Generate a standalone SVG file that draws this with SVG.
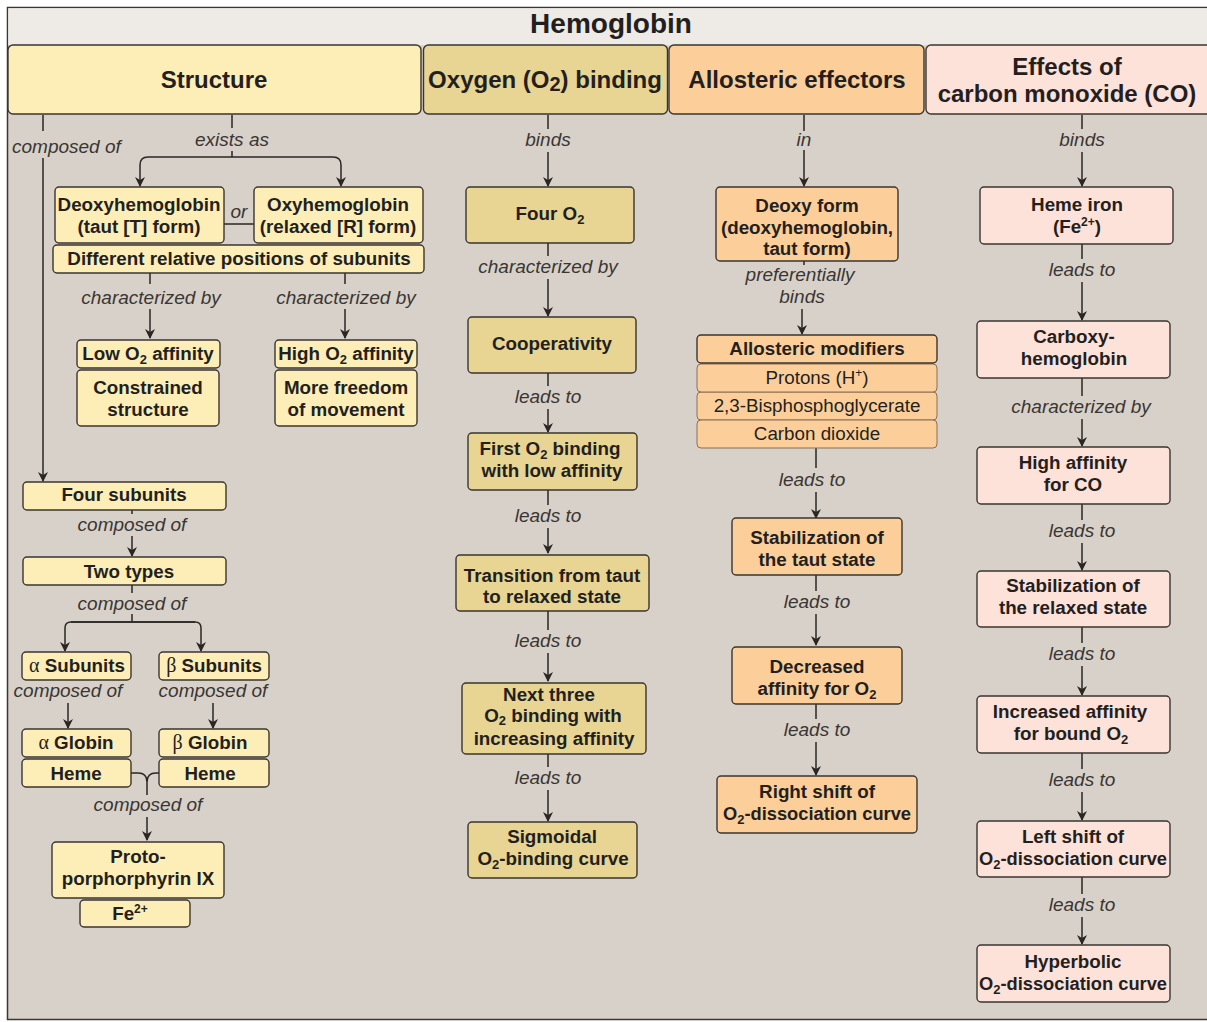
<svg xmlns="http://www.w3.org/2000/svg" width="1207" height="1022" viewBox="0 0 1207 1022">
<defs>
<marker id="ah" markerWidth="10" markerHeight="12" refX="9" refY="5" orient="auto" markerUnits="userSpaceOnUse">
<path d="M0,0 L10,5 L0,10 L3,5 Z" fill="#2a2623"/>
</marker>
<style>
.bg{fill:#d8d1c9;stroke:#3a3633;stroke-width:1.5}
.tb{fill:#eeebe7}
.n{stroke:#3a3530;stroke-width:1.4}
.s{fill:#fdeeb8}
.o{fill:#e8d493}
.a{fill:#fccf9a}
.c{fill:#fde2da}
.am{fill:#fccf9a;stroke:#8a6f55;stroke-width:1}
.t{font-family:"Liberation Sans",Arial,sans-serif;font-weight:bold;font-size:18.8px;fill:#231f20;text-anchor:middle}
.tn{font-size:18.3px}
.r{font-weight:normal}
.h{font-family:"Liberation Sans",Arial,sans-serif;font-weight:bold;font-size:24px;fill:#231f20;text-anchor:middle}
.ttl{font-size:28px}
.l{font-family:"Liberation Sans",Arial,sans-serif;font-style:italic;font-size:19px;fill:#3a3633;text-anchor:middle}
.gr{font-family:"Liberation Serif",serif;font-weight:normal}
.k{fill:none;stroke:#2a2623;stroke-width:1.5}
.ka{fill:none;stroke:#2a2623;stroke-width:1.5;marker-end:url(#ah)}
</style>
</defs>
<rect class="bg" x="7.5" y="7.5" width="1215" height="1012"/>
<rect class="tb" x="8.2" y="8.2" width="1210" height="37"/>
<text class="h ttl" x="611" y="33">Hemoglobin</text>

<g id="hdr-structure"><rect class="n s" x="8" y="45" width="413" height="69" rx="5"/><text class="h" x="214" y="88">Structure</text></g>
<g id="hdr-oxygen"><rect class="n o" x="423.5" y="45" width="244" height="69" rx="5"/><text class="h" x="545" y="88">Oxygen (O<tspan font-size="20" dy="3">2</tspan><tspan dy="-3">) binding</tspan></text></g>
<g id="hdr-allosteric"><rect class="n a" x="669" y="45" width="255" height="69" rx="5"/><text class="h" x="797" y="88">Allosteric effectors</text></g>
<g id="hdr-co"><rect class="n c" x="926" y="45" width="290" height="69" rx="5"/><text class="h" x="1067" y="75">Effects of</text><text class="h" x="1067" y="102">carbon monoxide (CO)</text></g>

<g id="connectors">
<path class="k" d="M43,115 V131 M43,158 V460"/>
<path class="ka" d="M43,460 V481"/>
<path class="k" d="M232,115 V128 M232,151 V157"/>
<path class="ka" d="M148,157 H333 Q341,157 341,165 V186"/>
<path class="ka" d="M148,157 Q140,157 140,165 V186"/>
<path class="k" d="M224,224 H254"/>
<path class="k" d="M150,273 V284 M345,273 V284"/>
<path class="ka" d="M150,309 V338"/>
<path class="ka" d="M345,309 V338"/>
<path class="k" d="M132,510 V514"/>
<path class="ka" d="M132,536 V556"/>
<path class="k" d="M132,585 V593 M132,614 V622"/>
<path class="ka" d="M71,622 H195 Q201,622 201,628 V651"/>
<path class="ka" d="M195,622 H71 Q65,622 65,628 V651"/>
<path class="ka" d="M68,703 V728"/>
<path class="ka" d="M213,703 V728"/>
<path class="k" d="M131,773 H138 Q147,773 147,782 V795 M159,773 H156 Q147,773 147,782"/>
<path class="ka" d="M147,817 V840"/>

<path class="k" d="M548,115 V129 M548,243 V256 M548,373 V386 M548,490 V505 M548,611 V630 M548,754 V767"/>
<path class="ka" d="M548,152 V186"/>
<path class="ka" d="M548,279 V316"/>
<path class="ka" d="M548,409 V432"/>
<path class="ka" d="M548,528 V553"/>
<path class="ka" d="M548,653 V681"/>
<path class="ka" d="M548,790 V821"/>

<path class="k" d="M804,115 V131 M804,261 V265 M816,448 V468 M816,575 V591 M816,704 V719"/>
<path class="ka" d="M804,150 V186"/>
<path class="ka" d="M802,309 V334"/>
<path class="ka" d="M816,492 V518"/>
<path class="ka" d="M816,614 V645"/>
<path class="ka" d="M816,742 V775"/>

<path class="k" d="M1082,115 V129 M1082,244 V259 M1082,378 V396 M1082,504 V520 M1082,627 V643 M1082,753 V769 M1082,877 V894"/>
<path class="ka" d="M1082,152 V186"/>
<path class="ka" d="M1082,282 V320"/>
<path class="ka" d="M1082,419 V446"/>
<path class="ka" d="M1082,543 V570"/>
<path class="ka" d="M1082,666 V695"/>
<path class="ka" d="M1082,792 V820"/>
<path class="ka" d="M1082,917 V944"/>
</g>

<g id="labels">
<text class="l" x="12" y="153" style="text-anchor:start">composed of</text>
<text class="l" x="232" y="146">exists as</text>
<text class="l" x="239" y="218">or</text>
<text class="l" x="151" y="304">characterized by</text>
<text class="l" x="346" y="304">characterized by</text>
<text class="l" x="132" y="531">composed of</text>
<text class="l" x="132" y="610">composed of</text>
<text class="l" x="68" y="697">composed of</text>
<text class="l" x="213" y="697">composed of</text>
<text class="l" x="148" y="811">composed of</text>
<text class="l" x="548" y="146">binds</text>
<text class="l" x="548" y="273">characterized by</text>
<text class="l" x="548" y="403">leads to</text>
<text class="l" x="548" y="522">leads to</text>
<text class="l" x="548" y="647">leads to</text>
<text class="l" x="548" y="784">leads to</text>
<text class="l" x="804" y="146">in</text>
<text class="l" x="800" y="281">preferentially</text>
<text class="l" x="802" y="303">binds</text>
<text class="l" x="812" y="486">leads to</text>
<text class="l" x="817" y="608">leads to</text>
<text class="l" x="817" y="736">leads to</text>
<text class="l" x="1082" y="146">binds</text>
<text class="l" x="1082" y="276">leads to</text>
<text class="l" x="1081" y="413">characterized by</text>
<text class="l" x="1082" y="537">leads to</text>
<text class="l" x="1082" y="660">leads to</text>
<text class="l" x="1082" y="786">leads to</text>
<text class="l" x="1082" y="911">leads to</text>
</g>

<g id="n-deoxy"><rect class="n s" x="55" y="187" width="169" height="56" rx="4"/><text class="t" x="139" y="211">Deoxyhemoglobin</text><text class="t" x="139" y="233">(taut [T] form)</text></g>
<g id="n-oxy"><rect class="n s" x="254" y="187" width="169" height="56" rx="4"/><text class="t" x="338" y="211">Oxyhemoglobin</text><text class="t" x="338" y="233">(relaxed [R] form)</text></g>
<g id="n-diff"><rect class="n s" x="53" y="245" width="371" height="28" rx="4"/><text class="t" x="239" y="265">Different relative positions of subunits</text></g>
<g id="n-low"><rect class="n s" x="77" y="340" width="143" height="28" rx="4"/><text class="t" x="148" y="360">Low O<tspan font-size="13" dy="4">2</tspan><tspan dy="-4"> affinity</tspan></text></g>
<g id="n-constrained"><rect class="n s" x="77" y="370" width="142" height="56" rx="4"/><text class="t" x="148" y="394">Constrained</text><text class="t" x="148" y="416">structure</text></g>
<g id="n-high"><rect class="n s" x="275" y="340" width="142" height="28" rx="4"/><text class="t" x="346" y="360">High O<tspan font-size="13" dy="4">2</tspan><tspan dy="-4"> affinity</tspan></text></g>
<g id="n-freedom"><rect class="n s" x="275" y="370" width="142" height="56" rx="4"/><text class="t" x="346" y="394">More freedom</text><text class="t" x="346" y="416">of movement</text></g>
<g id="n-four-subunits"><rect class="n s" x="23" y="482" width="203" height="28" rx="4"/><text class="t" x="124" y="501">Four subunits</text></g>
<g id="n-two-types"><rect class="n s" x="23" y="557" width="203" height="28" rx="4"/><text class="t" x="129" y="578">Two types</text></g>
<g id="n-alpha-sub"><rect class="n s" x="22" y="652" width="109" height="28" rx="4"/><text class="t" x="77" y="672"><tspan class="gr" font-size="20">α</tspan> Subunits</text></g>
<g id="n-beta-sub"><rect class="n s" x="159" y="652" width="110" height="28" rx="4"/><text class="t" x="214" y="672"><tspan class="gr" font-size="20">β</tspan> Subunits</text></g>
<g id="n-alpha-globin"><rect class="n s" x="22" y="729" width="109" height="28" rx="4"/><text class="t" x="76" y="749"><tspan class="gr" font-size="20">α</tspan> Globin</text></g>
<g id="n-alpha-heme"><rect class="n s" x="22" y="759" width="109" height="28" rx="4"/><text class="t" x="76" y="780">Heme</text></g>
<g id="n-beta-globin"><rect class="n s" x="159" y="729" width="110" height="28" rx="4"/><text class="t" x="210" y="749"><tspan class="gr" font-size="20">β</tspan> Globin</text></g>
<g id="n-beta-heme"><rect class="n s" x="159" y="759" width="110" height="28" rx="4"/><text class="t" x="210" y="780">Heme</text></g>
<g id="n-proto"><rect class="n s" x="52" y="842" width="172" height="56" rx="4"/><text class="t" x="138" y="863">Proto-</text><text class="t" x="138" y="885">porphorphyrin IX</text></g>
<g id="n-fe"><rect class="n s" x="80" y="900" width="110" height="27" rx="4"/><text class="t" x="130" y="920">Fe<tspan font-size="12" dy="-7">2+</tspan></text></g>

<g id="n-four-o2"><rect class="n o" x="466" y="187" width="168" height="56" rx="4"/><text class="t" x="550" y="220">Four O<tspan font-size="13" dy="4">2</tspan></text></g>
<g id="n-coop"><rect class="n o" x="468" y="317" width="168" height="56" rx="4"/><text class="t" x="552" y="350">Cooperativity</text></g>
<g id="n-first"><rect class="n o" x="468" y="433" width="169" height="57" rx="4"/><text class="t" x="550" y="455">First O<tspan font-size="13" dy="4">2</tspan><tspan dy="-4"> binding</tspan></text><text class="t" x="552" y="477">with low affinity</text></g>
<g id="n-transition"><rect class="n o" x="456" y="555" width="193" height="56" rx="4"/><text class="t" x="552" y="582">Transition from taut</text><text class="t" x="552" y="603">to relaxed state</text></g>
<g id="n-next"><rect class="n o" x="462" y="683" width="184" height="71" rx="4"/><text class="t" x="549" y="701">Next three</text><text class="t" x="553" y="722">O<tspan font-size="13" dy="3">2</tspan><tspan dy="-3"> binding with</tspan></text><text class="t" x="554" y="745">increasing affinity</text></g>
<g id="n-sigmoidal"><rect class="n o" x="468" y="822" width="169" height="56" rx="4"/><text class="t" x="552" y="843">Sigmoidal</text><text class="t" x="553" y="865">O<tspan font-size="13" dy="4">2</tspan><tspan dy="-4">-binding curve</tspan></text></g>

<g id="n-deoxy-form"><rect class="n a" x="716" y="187" width="182" height="74" rx="4"/><text class="t" x="807" y="212">Deoxy form</text><text class="t" x="807" y="234">(deoxyhemoglobin,</text><text class="t" x="807" y="255">taut form)</text></g>
<g id="n-modifiers"><rect class="am" x="697" y="392" width="240" height="28" rx="4"/><rect class="am" x="697" y="420" width="240" height="28" rx="4"/><rect class="am" x="697" y="364" width="240" height="28" rx="4"/><rect class="n a" x="697" y="335" width="240" height="28" rx="4"/><text class="t" x="817" y="355">Allosteric modifiers</text><text class="t r" x="817" y="384">Protons (H<tspan font-size="12" dy="-7">+</tspan><tspan dy="7">)</tspan></text><text class="t r" x="817" y="412">2,3-Bisphosphoglycerate</text><text class="t r" x="817" y="440">Carbon dioxide</text></g>
<g id="n-stab-taut"><rect class="n a" x="732" y="518" width="170" height="57" rx="4"/><text class="t" x="817" y="544">Stabilization of</text><text class="t" x="817" y="566">the taut state</text></g>
<g id="n-decreased"><rect class="n a" x="732" y="647" width="170" height="57" rx="4"/><text class="t" x="817" y="673">Decreased</text><text class="t" x="817" y="695">affinity for O<tspan font-size="13" dy="4">2</tspan></text></g>
<g id="n-right-shift"><rect class="n a" x="717" y="776" width="200" height="57" rx="4"/><text class="t" x="817" y="798">Right shift of</text><text class="t tn" x="817" y="820">O<tspan font-size="13" dy="4">2</tspan><tspan dy="-4">-dissociation curve</tspan></text></g>

<g id="n-heme-iron"><rect class="n c" x="980" y="187" width="193" height="57" rx="4"/><text class="t" x="1077" y="211">Heme iron</text><text class="t" x="1077" y="233">(Fe<tspan font-size="12" dy="-7">2+</tspan><tspan dy="7">)</tspan></text></g>
<g id="n-carboxy"><rect class="n c" x="977" y="321" width="193" height="57" rx="4"/><text class="t" x="1074" y="343">Carboxy-</text><text class="t" x="1074" y="365">hemoglobin</text></g>
<g id="n-high-co"><rect class="n c" x="977" y="447" width="193" height="57" rx="4"/><text class="t" x="1073" y="469">High affinity</text><text class="t" x="1073" y="491">for CO</text></g>
<g id="n-stab-relaxed"><rect class="n c" x="977" y="571" width="193" height="56" rx="4"/><text class="t" x="1073" y="592">Stabilization of</text><text class="t" x="1073" y="614">the relaxed state</text></g>
<g id="n-increased"><rect class="n c" x="977" y="696" width="193" height="57" rx="4"/><text class="t" x="1070" y="718">Increased affinity</text><text class="t" x="1071" y="740">for bound O<tspan font-size="13" dy="4">2</tspan></text></g>
<g id="n-left-shift"><rect class="n c" x="977" y="821" width="193" height="56" rx="4"/><text class="t" x="1073" y="843">Left shift of</text><text class="t tn" x="1073" y="865">O<tspan font-size="13" dy="4">2</tspan><tspan dy="-4">-dissociation curve</tspan></text></g>
<g id="n-hyperbolic"><rect class="n c" x="977" y="945" width="193" height="57" rx="4"/><text class="t" x="1073" y="968">Hyperbolic</text><text class="t tn" x="1073" y="990">O<tspan font-size="13" dy="4">2</tspan><tspan dy="-4">-dissociation curve</tspan></text></g>
</svg>
